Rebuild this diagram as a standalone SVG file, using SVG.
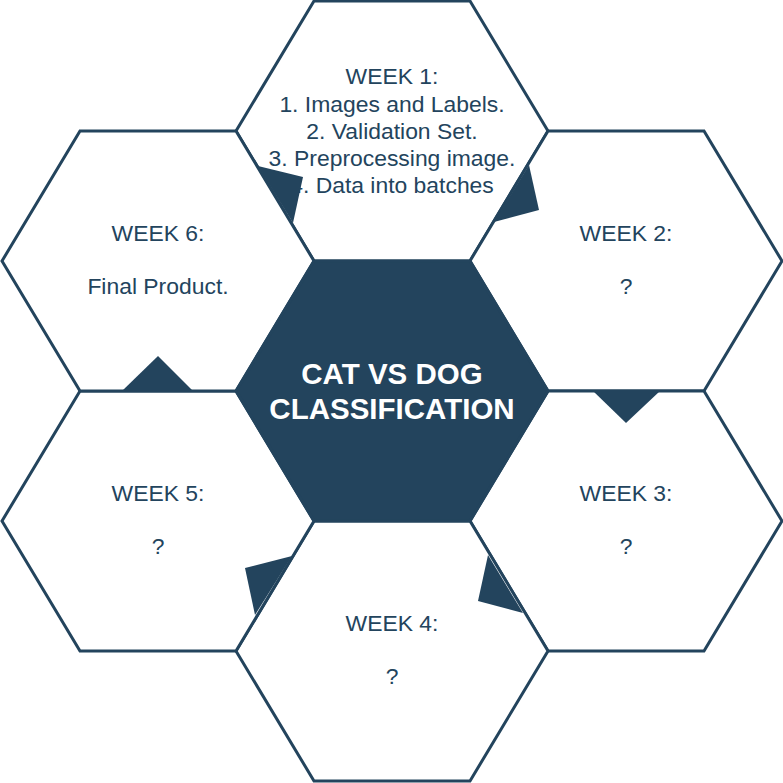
<svg xmlns="http://www.w3.org/2000/svg" width="783" height="783" viewBox="0 0 783 783">
<defs>
<style>
.hex{fill:#ffffff;stroke:#23445d;stroke-width:3;stroke-linejoin:miter}
.core{fill:#23445d;stroke:#23445d;stroke-width:3}
.t{font-family:"Liberation Sans",Arial,sans-serif;font-size:22.9px;fill:#23445d;text-anchor:middle}
.title{font-family:"Liberation Sans",Arial,sans-serif;font-size:29.5px;font-weight:bold;fill:#ffffff;text-anchor:middle}
.tri{fill:#23445d;stroke:none}
</style>
<polygon id="hexshape" points="-78,-130 78,-130 156,0 78,130 -78,130 -156,0"/>
</defs>
<rect width="783" height="783" fill="#ffffff"/>
<g id="week1">
<use href="#hexshape" class="hex" x="392" y="131"/>
<text class="t" x="392" y="84.3">WEEK 1:</text>
<text class="t" x="392" y="111.5">1. Images and Labels.</text>
<text class="t" x="392" y="138.7">2. Validation Set.</text>
<text class="t" x="392" y="165.9">3. Preprocessing image.</text>
<text class="t" x="392" y="193.1">4. Data into batches</text>
</g>
<g id="week2">
<use href="#hexshape" class="hex" x="626" y="261"/>
<text class="t" x="626" y="241">WEEK 2:</text>
<text class="t" x="626" y="294">?</text>
</g>
<g id="week3">
<use href="#hexshape" class="hex" x="626" y="521"/>
<text class="t" x="626" y="501">WEEK 3:</text>
<text class="t" x="626" y="554">?</text>
</g>
<g id="week4">
<use href="#hexshape" class="hex" x="392" y="651"/>
<text class="t" x="392" y="631">WEEK 4:</text>
<text class="t" x="392" y="684">?</text>
</g>
<g id="week5">
<use href="#hexshape" class="hex" x="158" y="521"/>
<text class="t" x="158" y="501">WEEK 5:</text>
<text class="t" x="158" y="554">?</text>
</g>
<g id="week6">
<use href="#hexshape" class="hex" x="158" y="261"/>
<text class="t" x="158" y="241">WEEK 6:</text>
<text class="t" x="158" y="294">Final Product.</text>
</g>
<g id="center">
<use href="#hexshape" class="core" x="392" y="391"/>
<text class="title" x="392" y="384">CAT VS DOG</text>
<text class="title" x="392" y="419">CLASSIFICATION</text>
</g>
<g id="connectors">
<polygon class="tri" points="258,166 303,177 293,223"/>
<polygon class="tri" points="529,165 539,210 494,222"/>
<polygon class="tri" points="593,391 660,391 626,423"/>
<polygon class="tri" points="488,555 478,601 523,613"/>
<polygon class="tri" points="292,556 245,568 255,615"/>
<polygon class="tri" points="122,391 193,391 158,356"/>
</g>
</svg>
